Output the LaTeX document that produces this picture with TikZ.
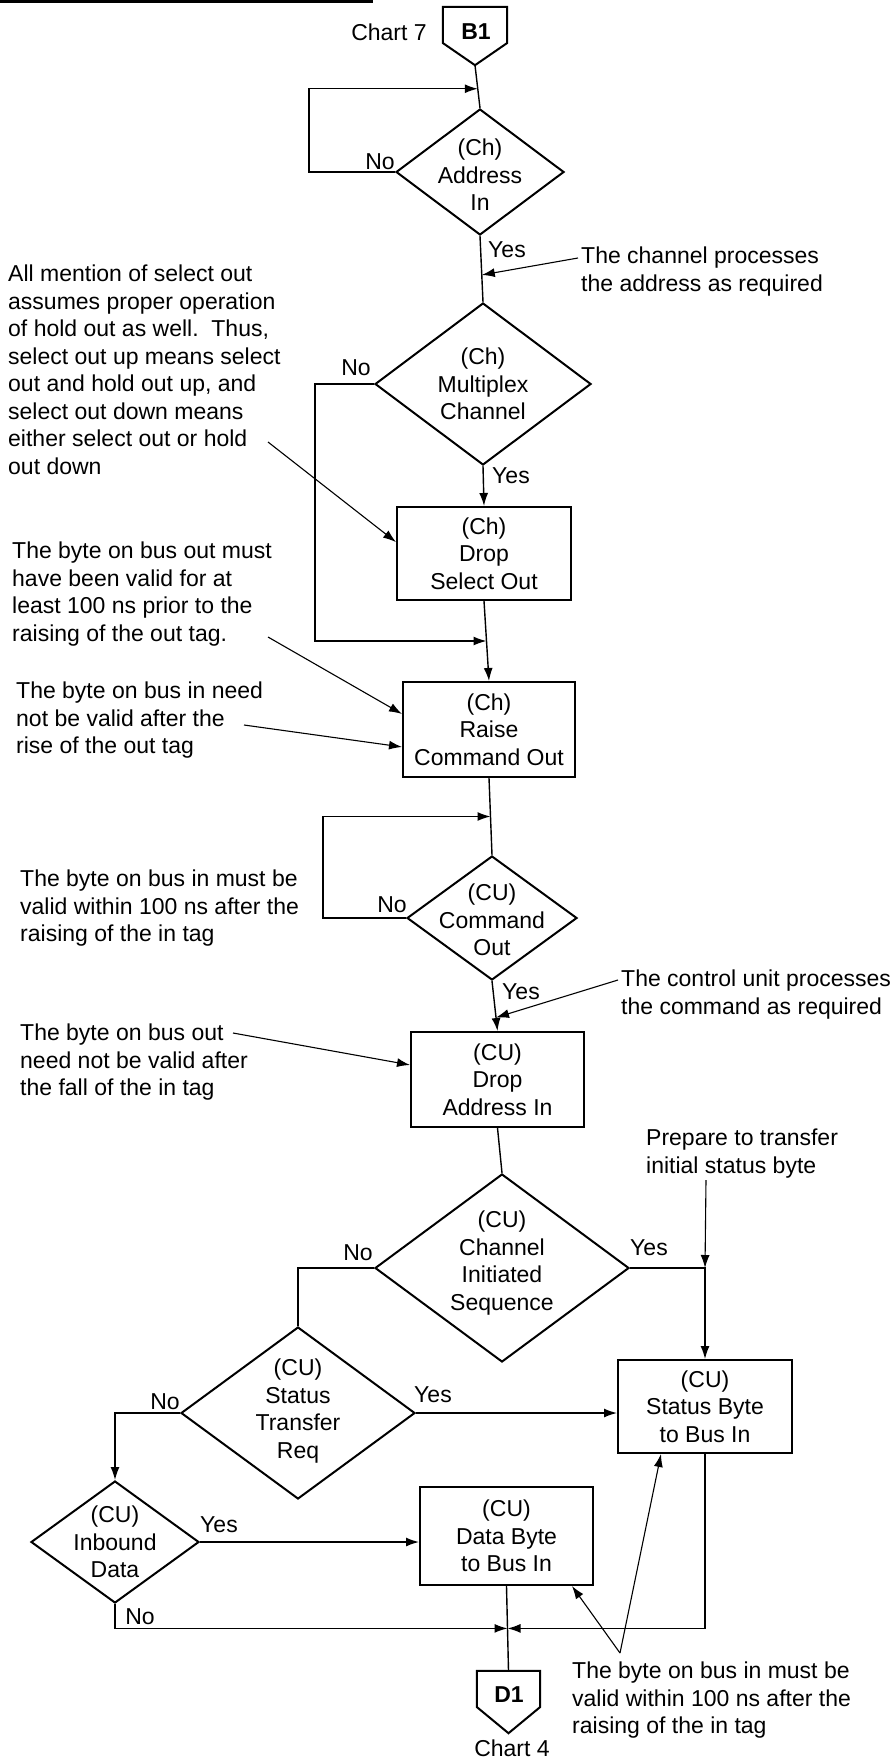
\documentclass[tikz,border=0pt]{standalone}
\usepackage{fontspec}
\setmainfont{Liberation Sans}
\usetikzlibrary{shapes.geometric,arrows.meta,calc}
\begin{document}
\begin{tikzpicture}[x=1pt,y=-1pt,
  every node/.style={font=\fontsize{23}{27.5}\selectfont, inner sep=0pt},
  box/.style={draw, line width=2pt, rectangle, align=center},
  dia/.style={draw, line width=2pt, diamond, aspect=1},
  dtext/.style={align=center},
  note/.style={align=left, anchor=north west},
  conn/.style={line width=1.4pt},
  arr/.style={conn, -{Latex[length=13pt,width=9pt]}},
  ann/.style={line width=1.1pt, -{Latex[length=13pt,width=9pt]}},
  pent/.style={line width=2pt},
]
\useasboundingbox (0,0) rectangle (893,1758);
\fill[white] (0,0) rectangle (893,1758);
% clipped title rule
\draw[line width=3pt] (0,2) -- (373,2);

% off-page connector B1
\node (chart7) at (389,32) {Chart 7};
\node[minimum width=64pt, minimum height=58pt] (B1) at (475,36) {};
\draw[pent] (B1.north west) -- (B1.north east) -- ($(B1.north east)!0.62!(B1.south east)$) -- (B1.south) -- ($(B1.north west)!0.62!(B1.south west)$) -- cycle;
\node[font=\fontsize{23}{27.5}\selectfont\bfseries] (tB1) at (476,32) {B1};

% shapes
\node[dia, minimum width=168pt, minimum height=126pt] (addr) at (480,172) {};
\node[dtext] (taddr) at (480,175) {(Ch)\\Address\\In};

\node[dia, minimum width=216pt, minimum height=162pt] (mux) at (483,384) {};
\node[dtext] (tmux) at (483,384) {(Ch)\\Multiplex\\Channel};

\node[box, minimum width=174pt, minimum height=93pt] (dso) at (484,553.5) {(Ch)\\Drop\\Select Out};

\node[box, minimum width=172pt, minimum height=95pt] (raise) at (489,729.5) {(Ch)\\Raise\\Command Out};

\node[dia, minimum width=170pt, minimum height=124pt] (cmd) at (492,918) {};
\node[dtext] (tcmd) at (492,920) {(CU)\\Command\\Out};

\node[box, minimum width=173pt, minimum height=95pt] (dai) at (497.5,1079.5) {(CU)\\Drop\\Address In};

\node[dia, minimum width=254pt, minimum height=188pt] (cis) at (502,1268) {};
\node[dtext] (tcis) at (502,1263) {(CU)\\Channel\\Initiated\\Sequence};

\node[box, minimum width=174pt, minimum height=93pt] (sbb) at (705,1406.5) {(CU)\\Status Byte\\to Bus In};

\node[dia, minimum width=234pt, minimum height=172pt] (str) at (298,1413) {};
\node[dtext] (tstr) at (298,1411) {(CU)\\Status\\Transfer\\Req};

\node[dia, minimum width=168pt, minimum height=122pt] (inb) at (115,1542) {};
\node[dtext] (tinb) at (115,1542) {(CU)\\Inbound\\Data};

\node[box, minimum width=173pt, minimum height=98pt] (dbb) at (506.5,1536) {(CU)\\Data Byte\\to Bus In};

% off-page connector D1
\node[minimum width=63pt, minimum height=62pt] (D1) at (508.5,1702) {};
\draw[pent] (D1.north west) -- (D1.north east) -- ($(D1.north east)!0.58!(D1.south east)$) -- (D1.south) -- ($(D1.north west)!0.58!(D1.south west)$) -- cycle;
\node[font=\fontsize{23}{27.5}\selectfont\bfseries] (tD1) at (509,1695) {D1};
\node (chart4) at (512,1748) {Chart 4};

% connectors
\draw[conn] (B1.south) -- (addr.north);
\coordinate (j1) at ($(B1.south)!0.55!(addr.north)$);
\draw[arr] (addr.west) -- ++(-86,0) |- (j1);

\draw[conn] (addr.south) -- (mux.north);
\coordinate (p1) at ($(addr.south)!0.59!(mux.north)$);
\draw[arr] (mux.south) -- (dso.north);
\draw[arr] (dso.south) -- (raise.north);
\coordinate (j2) at ($(dso.south)!0.5!(raise.north)$);
\draw[arr] (mux.west) -- ++(-59,0) |- (j2);

\draw[conn] (raise.south) -- (cmd.north);
\coordinate (j3) at ($(raise.south)!0.5!(cmd.north)$);
\draw[arr] (cmd.west) -- ++(-83,0) |- (j3);
\draw[arr] (cmd.south) -- (dai.north);
\coordinate (p2) at ($(cmd.south)!0.73!(dai.north)$);

\draw[conn] (dai.south) -- (cis.north);
\coordinate (c1) at (cis.east -| sbb.north);
\draw[arr] (cis.east) -- (c1) -- (sbb.north);
\draw[conn] (cis.west) -| (str.north);
\draw[arr] (str.east) -- (str.east -| sbb.west);
\draw[arr] (str.west) -| (inb.north);
\draw[arr] (inb.east) -- (inb.east -| dbb.west);

\draw[conn] (dbb.south) -- (D1.north);
\coordinate (j4) at ($(dbb.south)!0.5!(D1.north)$);
\draw[arr] (inb.south) |- (j4);
\draw[arr] (sbb.south) |- (j4);

% Yes / No labels
\node (no1) at (380,162) {No};
\node (yes1) at (507,250) {Yes};
\node (no2) at (356,368) {No};
\node (yes2) at (511,476) {Yes};
\node (no3) at (392,905) {No};
\node (yes3) at (521,992) {Yes};
\node (no4) at (358,1253) {No};
\node (yes4) at (649,1248) {Yes};
\node (no5) at (165,1402) {No};
\node (yes5) at (433,1395) {Yes};
\node (yes6) at (219,1525) {Yes};
\node (no6) at (140,1617) {No};

% annotations
\node[note] (n1) at (581,247) {The channel processes\\the address as required};
\node[note] (n2) at (8,265) {All mention of select out\\assumes proper operation\\of hold out as well.\ \ Thus,\\select out up means select\\out and hold out up, and\\select out down means\\either select out or hold\\out down};
\node[note] (n3) at (12,542) {The byte on bus out must\\have been valid for at\\least 100 ns prior to the\\raising of the out tag.};
\node[note] (n4) at (16,682) {The byte on bus in need\\not be valid after the\\rise of the out tag};
\node[note] (n5) at (20,870) {The byte on bus in must be\\valid within 100 ns after the\\raising of the in tag};
\node[note] (n6) at (621,970) {The control unit processes\\the command as required};
\node[note] (n7) at (20,1024) {The byte on bus out\\need not be valid after\\the fall of the in tag};
\node[note] (n8) at (646,1129) {Prepare to transfer\\initial status byte};
\node[note] (n9) at (572,1662) {The byte on bus in must be\\valid within 100 ns after the\\raising of the in tag};

% annotation arrows
\coordinate (s1) at (578,258);
\draw[ann] (s1) -- (p1);
\coordinate (s2) at (268,442);
\draw[ann] (s2) -- ($(dso.north west)!0.38!(dso.south west)$);
\coordinate (s3) at (268,637);
\draw[ann] (s3) -- ($(raise.north west)!0.34!(raise.south west)$);
\coordinate (s4) at (244,725);
\draw[ann] (s4) -- ($(raise.north west)!0.68!(raise.south west)$);
\coordinate (s5) at (233,1033);
\draw[ann] (s5) -- ($(dai.north west)!0.35!(dai.south west)$);
\coordinate (s6) at (618,980);
\draw[ann] (s6) -- (p2);
\coordinate (s7) at (706,1180);
\draw[ann] (s7) -- (c1);
\coordinate (s8) at (620,1653);
\draw[ann] (s8) -- ($(dbb.south east)+(-22,0)$);
\draw[ann] (s8) -- ($(sbb.south west)+(44,0)$);
\end{tikzpicture}
\end{document}
